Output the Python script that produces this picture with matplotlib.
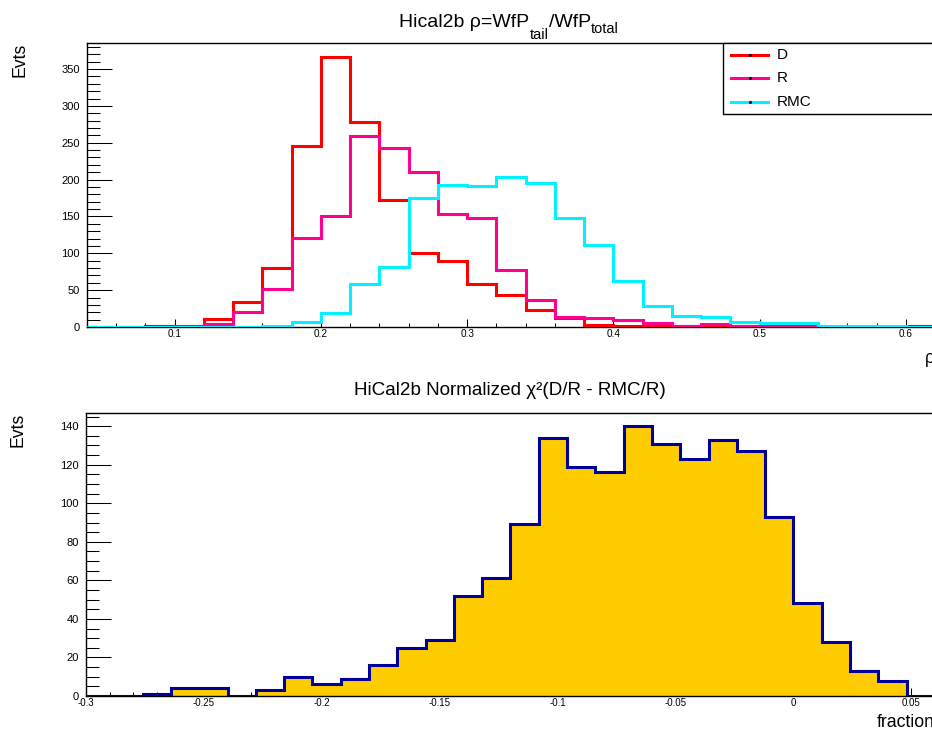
import matplotlib
matplotlib.use("Agg")
import matplotlib.pyplot as plt
import numpy as np
from matplotlib.lines import Line2D
from matplotlib.patches import Rectangle
from matplotlib.ticker import MultipleLocator, FuncFormatter

plt.rcParams["font.family"] = ["Liberation Sans", "DejaVu Sans"]
plt.rcParams["axes.unicode_minus"] = False

W, H = 932, 733  # output size in pixels

# top histogram: rho = WfP_tail / WfP_total, 29 bins of width 0.02 starting at 0.04
rho_lo, rho_width = 0.04, 0.02
counts_D = [0, 0, 1, 1, 11, 34, 80, 245, 367, 278, 173, 101, 90, 58, 43,
            23, 12, 3, 2, 1, 1, 0, 0, 0, 0, 0, 0, 0, 1]
counts_R = [0, 0, 0, 1, 4, 20, 51, 121, 151, 259, 243, 210, 153, 148, 77,
            37, 14, 12, 9, 5, 1, 4, 2, 2, 2, 0, 0, 0, 0]
counts_RMC = [0, 0, 0, 0, 0, 0, 2, 7, 19, 58, 81, 175, 192, 191, 204,
              196, 148, 111, 63, 28, 15, 14, 7, 5, 6, 1, 1, 1, 0]
legend_labels = ["D", "R", "RMC"]
legend_colors = ["#ff0000", "#ff0090", "#00f2ff"]

# bottom histogram: normalized chi2, 30 bins of width 0.012 starting at -0.3
frac_lo, frac_width = -0.3, 0.012
counts_chi2 = [0, 0, 1, 4, 4, 0, 3, 10, 6, 9, 16, 25, 29, 52, 61,
               89, 134, 119, 116, 140, 131, 123, 133, 127, 93, 48, 28, 13, 8, 0]


def add_axes_px(fig, left, top, right, bottom):
    return fig.add_axes([left / W, 1 - bottom / H, (right - left) / W, (bottom - top) / H])


def root_style(ax, xmaj, xmin, ymaj, ymin):
    for s in ax.spines.values():
        s.set_linewidth(1.0)
    ax.xaxis.set_major_locator(MultipleLocator(xmaj))
    ax.xaxis.set_minor_locator(MultipleLocator(xmin))
    ax.yaxis.set_major_locator(MultipleLocator(ymaj))
    ax.yaxis.set_minor_locator(MultipleLocator(ymin))
    ax.xaxis.set_major_formatter(FuncFormatter(lambda v, p: "%g" % (round(v, 6) + 0.0)))
    ax.tick_params(which="both", direction="in", top=False, right=False, width=0.75)
    ax.tick_params(axis="x", which="major", length=5.8, pad=1.5, labelsize=7.2)
    ax.tick_params(axis="x", which="minor", length=3.0)
    ax.tick_params(axis="y", which="major", length=18, pad=5, labelsize=8)
    ax.tick_params(axis="y", which="minor", length=9.4)


def chained_text(fig, center_x, baseline_y, parts):
    # ROOT-like title with dropped subscripts, laid out piece by piece
    r = fig.canvas.get_renderer()
    texts = [(fig.text(0, 0, s, fontsize=size, va="baseline", ha="left"), drop)
             for s, size, drop in parts]
    widths = [t.get_window_extent(r).width for t, _ in texts]
    x = center_x - sum(widths) / 2
    for (t, drop), w in zip(texts, widths):
        t.set_position((x / W, 1 - (baseline_y + drop) / H))
        x += w


fig = plt.figure(figsize=(W / 100, H / 100), dpi=100)
fig.patch.set_facecolor("white")

# ---- top pad
ax1 = add_axes_px(fig, 87, 43, 935, 327)
edges1 = rho_lo + rho_width * np.arange(len(counts_D) + 1)
for counts, col in zip([counts_D, counts_R, counts_RMC], legend_colors):
    ax1.stairs(counts, edges1, color=col, lw=2.2, zorder=3)
ax1.set_xlim(edges1[0], edges1[-1])
ax1.set_ylim(0, max(counts_D) * 1.05)
root_style(ax1, 0.1, 0.02, 50, 10)
ax1.set_ylabel("Evts", loc="top", fontsize=12.7)
ax1.yaxis.set_label_coords(-0.0695, 1.0)
ax1.set_xlabel("ρ", loc="right", fontsize=12.7)
ax1.xaxis.set_label_coords(1.0, -0.081)

chained_text(fig, 509, 27, [("Hical2b ρ=WfP", 14, 0), ("tail", 10.5, 12),
                            ("/WfP", 14, 0), ("total", 10.5, 6)])

# legend box (its right side runs off the canvas, as in the original)
fig.add_artist(Rectangle((723 / W, 1 - 114 / H), 300 / W, 71 / H, transform=fig.transFigure,
                         facecolor="white", edgecolor="black", lw=1.0, zorder=5))
for i, (lab, col) in enumerate(zip(legend_labels, legend_colors)):
    yy = 1 - (55 + 23.4 * i) / H
    fig.add_artist(Line2D([731 / W, 768 / W], [yy, yy], color=col, lw=2.2, zorder=6))
    fig.add_artist(Line2D([749.5 / W], [yy], marker=".", ms=2.5, color="black", zorder=7))
    fig.text(777 / W, yy, lab, va="center", ha="left", fontsize=11, zorder=7)

# ---- bottom pad
ax2 = add_axes_px(fig, 86, 412.7, 935, 696)
edges2 = frac_lo + frac_width * np.arange(len(counts_chi2) + 1)
ax2.stairs(counts_chi2, edges2, fill=True, color="#ffcc00", zorder=2)
ax2.stairs(counts_chi2, edges2, color="#000099", lw=2.2, zorder=3)
ax2.set_xlim(edges2[0], edges2[-1])
ax2.set_ylim(0, max(counts_chi2) * 1.05)
root_style(ax2, 0.05, 0.01, 20, 5)
ax2.tick_params(axis="x", which="major", labelsize=7)
ax2.set_ylabel("Evts", loc="top", fontsize=12.7)
ax2.yaxis.set_label_coords(-0.0695, 1.0)
ax2.set_xlabel("fraction", loc="right", fontsize=12.7)
ax2.xaxis.set_label_coords(1.0, -0.0636)

fig.text(510 / W, 1 - 395 / H, "HiCal2b Normalized χ²(D/R - RMC/R)",
         fontsize=13.6, ha="center", va="baseline")

fig.savefig("out.png", dpi=100)
